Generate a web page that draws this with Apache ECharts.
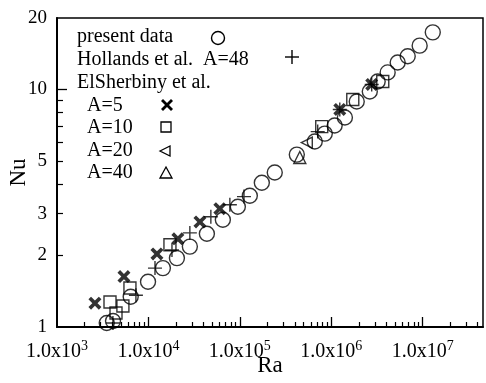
<!DOCTYPE html>
<html><head><meta charset="utf-8">
<script src="https://cdn.jsdelivr.net/npm/echarts@6/dist/echarts.min.js"></script>
<style>html,body{margin:0;padding:0;background:#fff}#c{width:486px;height:383px}</style>
</head><body><div id="c"></div>
<script>
// ---- data (Ra, Nu) ----
const presentRa = [3500,4100,6400,9900,14400,20500,28400,43600,65200,95100,128600,174000,241000,420000,660000,850000,1090000,1410000,1900000,2640000,3220000,4140000,5330000,6860000,9270000,12900000];
const presentNu = [1.04,1.06,1.34,1.55,1.77,1.95,2.18,2.47,2.83,3.21,3.57,4.05,4.47,5.32,6.04,6.52,7.05,7.62,8.90,9.81,10.8,11.8,13.0,13.8,15.3,17.4];
const hollandsRa = [4090,7300,11800,18100,28400,48200,77800,111000,711000,1240000,2770000];
const hollandsNu = [1.04,1.36,1.77,2.11,2.49,2.91,3.27,3.54,6.65,8.24,10.5];
const a5Ra = [2600,5400,12400,21000,36600,60400,1240000,2770000];
const a5Nu = [1.26,1.63,2.03,2.35,2.77,3.15,8.24,10.5];
const a10Ra = [3800,4420,5260,6280,17200,787000,1720000,3660000];
const a10Nu = [1.275,1.146,1.226,1.46,2.22,6.98,9.07,10.8];
const a20Ra = [540000];
const a20Nu = [5.98];
const a40Ra = [453000];
const a40Nu = [5.17];
// ---- axis ticks ----
const xLabelExp = [3,4,5,6,7];
const yLabelVals = [1,2,3,5,10,20];
const yMinorVals = [2,3,4,5,6,7,8,9];
const legendRows = ['present data','Hollands et al.  A=48','ElSherbiny et al.','A=5','A=10','A=20','A=40'];

const L = Math.log10;
const pts = (xs, ys) => xs.map((x,i)=>[L(x), L(ys[i])]);
const xMinor = [];
for (let d=3; d<=7; d++) for (let k=2; k<=9; k++) { const v = L(k*Math.pow(10,d)); if (v < 7.66) xMinor.push(v); }

const FONT = '"Liberation Serif","Times New Roman",serif';
const XSYM = 'path://M0,2 L2,0 L5,3 L8,0 L10,2 L7,5 L10,8 L8,10 L5,7 L2,10 L0,8 L3,5 Z';
const PLUS = 'path://M5,0 L5,10 M0,5 L10,5';
const LTRI = 'path://M0,5 L10,0 L10,10 Z';
const stroke = {color:'rgba(0,0,0,0)', borderColor:'#000', borderWidth:1.4};

const xBase = {type:'value', min:3, max:7.66, gridIndex:0, position:'bottom', splitLine:{show:false}, axisLine:{show:false}};
const yBase = {type:'value', min:0, max:L(20), gridIndex:0, position:'left', splitLine:{show:false}, axisLine:{show:false}};

const option = {
  animation:false,
  grid:{left:57, right:3, top:18, bottom:56, show:true, borderColor:'#000', borderWidth:1.5, containLabel:false, outerBoundsMode:'none'},
  xAxis:[
    Object.assign({}, xBase, {
      axisLine:{show:true, onZero:false, lineStyle:{color:'#000', width:2}},
      axisTick:{show:true, inside:true, length:10, customValues:[4,5,6,7], lineStyle:{color:'#000', width:1.3}},
      axisLabel:{show:true, customValues:xLabelExp, margin:12, fontFamily:FONT, color:'#000',
        formatter:(v)=>'{b|1.0x10}{s|'+Math.round(v)+'}',
        rich:{b:{fontSize:20, fontFamily:FONT, color:'#000'}, s:{fontSize:14, fontFamily:FONT, color:'#000', padding:[0,0,12,0]}}},
      name:'Ra', nameLocation:'middle', nameGap:27, nameMoveOverlap:false, nameTextStyle:{fontSize:23, fontFamily:FONT, color:'#000'}
    }),
    Object.assign({}, xBase, {
      axisTick:{show:true, inside:true, length:5, customValues:xMinor, lineStyle:{color:'#000', width:1.2}},
      axisLabel:{show:false}
    })
  ],
  yAxis:[
    Object.assign({}, yBase, {
      axisLine:{show:true, onZero:false, lineStyle:{color:'#000', width:2}},
      axisTick:{show:true, inside:true, length:10, customValues:[1], lineStyle:{color:'#000', width:1.3}},
      axisLabel:{show:true, customValues:yLabelVals.map(L), margin:10, fontSize:19, fontFamily:FONT, color:'#000',
        formatter:(v)=>String(Math.round(Math.pow(10,v)))},
      name:'Nu', nameLocation:'middle', nameGap:27, nameRotate:90, nameMoveOverlap:false, nameTextStyle:{fontSize:23, fontFamily:FONT, color:'#000'}
    }),
    Object.assign({}, yBase, {
      axisTick:{show:true, inside:true, length:6, customValues:yMinorVals.map(L), lineStyle:{color:'#000', width:1.2}},
      axisLabel:{show:false}
    })
  ],
  series:[
    {type:'scatter', name:'present data', symbol:'circle', symbolSize:15, data:pts(presentRa,presentNu), itemStyle:stroke},
    {type:'scatter', name:'Hollands', symbol:PLUS, symbolSize:14, data:pts(hollandsRa,hollandsNu), itemStyle:stroke},
    {type:'scatter', name:'A=5', symbol:XSYM, symbolSize:13, data:pts(a5Ra,a5Nu), itemStyle:{color:'#000'}},
    {type:'scatter', name:'A=10', symbol:'rect', symbolSize:12, data:pts(a10Ra,a10Nu), itemStyle:stroke},
    {type:'scatter', name:'A=20', symbol:LTRI, symbolSize:11, data:pts(a20Ra,a20Nu), itemStyle:stroke},
    {type:'scatter', name:'A=40', symbol:'triangle', symbolSize:12, data:pts(a40Ra,a40Nu), itemStyle:stroke}
  ],
  graphic:[
    {type:'text', left:77, top:27, style:{text:legendRows[0], font:'20px '+FONT, fill:'#000'}},
    {type:'text', left:77, top:50, style:{text:legendRows[1], font:'20px '+FONT, fill:'#000'}},
    {type:'text', left:77, top:73, style:{text:legendRows[2], font:'20px '+FONT, fill:'#000'}},
    {type:'text', left:87, top:96, style:{text:legendRows[3], font:'20px '+FONT, fill:'#000'}},
    {type:'text', left:87, top:118, style:{text:legendRows[4], font:'20px '+FONT, fill:'#000'}},
    {type:'text', left:87, top:141, style:{text:legendRows[5], font:'20px '+FONT, fill:'#000'}},
    {type:'text', left:87, top:163, style:{text:legendRows[6], font:'20px '+FONT, fill:'#000'}},
    {type:'circle', shape:{cx:218, cy:38, r:6.5}, style:{fill:'none', stroke:'#000', lineWidth:1.4}},
    {type:'polyline', shape:{points:[[292,50],[292,64]]}, style:{stroke:'#000', lineWidth:1.4}},
    {type:'polyline', shape:{points:[[285,57],[299,57]]}, style:{stroke:'#000', lineWidth:1.4}},
    {type:'polygon', shape:{points:[[161,101],[163,99],[167,103],[171,99],[173,101],[169,105],[173,109],[171,111],[167,107],[163,111],[161,109],[165,105]]}, style:{fill:'#000'}},
    {type:'rect', shape:{x:161, y:122, width:10, height:10}, style:{fill:'none', stroke:'#000', lineWidth:1.3}},
    {type:'polygon', shape:{points:[[160,151],[170,146],[170,156]]}, style:{fill:'none', stroke:'#000', lineWidth:1.3}},
    {type:'polygon', shape:{points:[[166,167],[172,178],[160,178]]}, style:{fill:'none', stroke:'#000', lineWidth:1.3}}
  ]
};
const chart = echarts.init(document.getElementById('c'), null, {renderer:'canvas'});
chart.setOption(option);
</script></body></html>
